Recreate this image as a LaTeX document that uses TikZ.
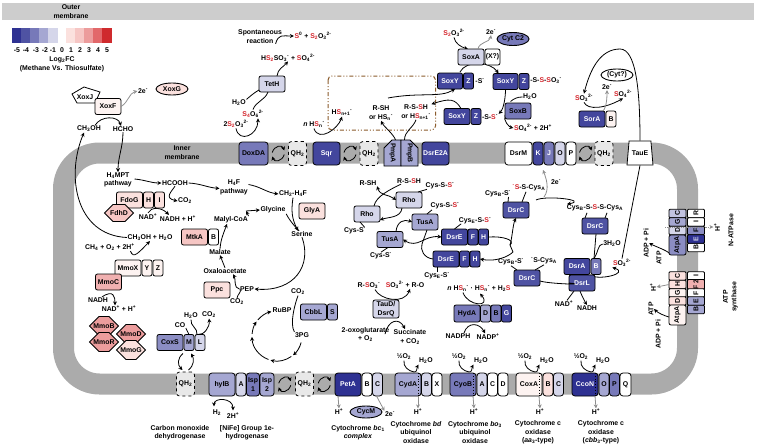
\documentclass[tikz,border=0pt]{standalone}
\usepackage{fontspec}
\setmainfont{Liberation Sans}
\usetikzlibrary{arrows.meta,backgrounds,calc,positioning,shapes.geometric,shapes.misc}
\definecolor{bfive}{HTML}{2E3192}
\definecolor{bfour}{HTML}{4F53A3}
\definecolor{bthree}{HTML}{7779B9}
\definecolor{btwo}{HTML}{A5A7D2}
\definecolor{bone}{HTML}{D5D6EA}
\definecolor{rone}{HTML}{FBE1DE}
\definecolor{rtwo}{HTML}{F6C6C4}
\definecolor{rthree}{HTML}{EC9C9C}
\definecolor{rfour}{HTML}{E2686A}
\definecolor{rfive}{HTML}{CF2A2D}
\definecolor{pale}{HTML}{FDF3F1}
\definecolor{sred}{HTML}{D3232A}
\definecolor{membrane}{HTML}{ABABAB}
\definecolor{outerbar}{HTML}{CDCDCD}
\definecolor{qhfill}{HTML}{E8E8E8}
\definecolor{egray}{HTML}{8E8E8E}
\definecolor{pocket}{HTML}{8A5A2B}
\newcommand{\dn}[1]{\textsubscript{#1}}
\newcommand{\up}[1]{\textsuperscript{#1}}
\newcommand{\rd}[1]{\textcolor{sred}{#1}}
\newcommand{\rt}[1]{\rotatebox{90}{#1}}
\newcommand{\qhcycle}[2]{%
  \coordinate (mid) at ($(#1.east)!.5!(#2.west)$);
  \draw[flow] (mid) ++(-6,-1) .. controls +(2,-7) and +(-2,-6) .. ++(12,-2);
  \draw[flow] (mid) ++(6,1) .. controls +(-2,7) and +(2,6) .. ++(-12,2);
}
\tikzset{
  every node/.style={font=\fontsize{6.9}{8.4}\selectfont\bfseries, inner sep=0.5pt, align=center},
  prot/.style={draw=black, line width=0.8pt, rounded corners=2pt, outer sep=0pt, inner sep=0pt, minimum width=26pt, minimum height=16pt},
  sub/.style={prot, minimum width=10pt},
  memb/.style={prot, minimum height=23pt, rounded corners=3pt},
  msub/.style={memb, minimum width=10pt},
  qh/.style={memb, dashed, fill=qhfill, minimum width=18pt, minimum height=24pt},
  dk/.style={text=white},
  hexa/.style={draw=black, line width=0.8pt, chamfered rectangle, chamfered rectangle xsep=3pt, chamfered rectangle ysep=7pt, minimum width=29pt, minimum height=14pt, inner sep=0pt, outer sep=0pt},
  pmp/.style={draw=black, line width=0.8pt, fill=btwo, chamfered rectangle, chamfered rectangle xsep=5pt, chamfered rectangle ysep=6pt, chamfered rectangle corners=north west, minimum width=17pt, minimum height=26pt, inner sep=0pt, outer sep=0pt},
  cyt/.style={draw=black, line width=0.9pt, ellipse, minimum width=32pt, minimum height=12pt, inner sep=0pt},
  atp/.style={prot, minimum width=17pt, minimum height=8.5pt, rounded corners=1pt},
  lnk/.style={line width=0.8pt},
  flow/.style={lnk, -{Stealth[length=4pt,width=4pt]}},
  flowb/.style={lnk, {Stealth[length=4pt,width=4pt]}-{Stealth[length=4pt,width=4pt]}},
  eflow/.style={line width=0.8pt, egray, -{Stealth[length=4pt,width=4pt]}},
}
\begin{document}
\begin{tikzpicture}[x=1pt,y=-1pt]
\useasboundingbox (0,0) rectangle (764,447);
% membranes
\node[fill=outerbar, minimum width=752pt, minimum height=17pt] (outer) at (378,11.5) {};
\draw[line width=21pt, membrane, rounded corners=36pt] (63.5,153) rectangle (687.5,384);
\node (outerlbl) at (71,11.5) {Outer\\membrane};
\node (innerlbl) at (182,152.5) {Inner\\membrane};
% colour key
\foreach \c/\x in {bfive/12,bfour/21,bthree/30,btwo/39,bone/48,rone/66,rtwo/75,rthree/84,rfour/93,rfive/102}
  \fill[\c] (\x,28) rectangle +(9.5,15);
\foreach \l/\x in {-5/17,-4/26,-3/36,-2/45,-1/53,0/62,1/71,2/80,3/89,4/98,5/107}
  \node at (\x,50) {\l};
\node (keylbl) at (62,64.5) {Log\dn{2}FC\\(Methane Vs. Thiosulfate)};
% methanol oxidation
\draw[lnk, fill=white] (72,94) -- (84,87) -- (100,92) -- (95,103) -- (77,103) -- cycle;
\node (xoxJ) at (85,97) {XoxJ};
\node[prot, fill=pale] (xoxF) at (108,106.5) {XoxF};
\node[cyt, fill=rone] (xoxG) at (172,89) {XoxG};
\node (eXox) at (143,91) {2e\up{-}};
\node (chOH) at (89,129) {CH\dn{3}OH};
\node (hcho) at (123,129) {HCHO};
\node (hmpt) at (118,180) {H\dn{4}MPT\\pathway};
\node (hcooh) at (175,183) {HCOOH};
\node (hf) at (234,187.5) {H\dn{4}F\\pathway};
\node[prot, fill=rone] (fdoG) at (129.5,200) {FdoG};
\node[sub, fill=rone, right=1pt of fdoG] (fdoH) {H};
\node[sub, fill=rone, right=1pt of fdoH] (fdoI) {I};
\node[hexa, fill=rtwo, minimum height=12pt, chamfered rectangle ysep=6pt] (fdhD) at (119,213) {FdhD};
\node (coA) at (185,201) {CO\dn{2}};
\node (nadA) at (148,216.5) {NAD\up{+}};
\node (nadhA) at (178,218.5) {NADH + H\up{+}};
\node (chOHb) at (150,237.5) {CH\dn{3}OH + H\dn{2}O};
\node (chFour) at (110,247) {CH\dn{4} + O\dn{2} + 2H\up{+}};
\node[prot, fill=pale] (mmoX) at (128,268) {MmoX};
\node[sub, fill=pale, right=1pt of mmoX] (mmoY) {Y};
\node[sub, fill=pale, right=1pt of mmoY] (mmoZ) {Z};
\node[prot, fill=rthree!80] (mmoC) at (108.5,282) {MmoC};
\node (nadhB) at (98,300) {NADH};
\node (nadB) at (119,309) {NAD\up{+} + H\up{+}};
\node[hexa, fill=rthree] (mmoB) at (104,326) {MmoB};
\node[hexa, fill=rthree] (mmoR) at (104,342) {MmoR};
\node[hexa, fill=rthree] (mmoD) at (131,334) {MmoD};
\node[hexa, fill=rone] (mmoG) at (131,350) {MmoG};
\draw[eflow] (xoxF.east) to[out=30,in=-165] (eXox.west);
\draw[flow] ([xshift=6pt]chOH.north) .. controls +(6,-10) and +(-3,-10) .. ([xshift=-2pt]hcho.north);
\draw[flow] (hcho.south) .. controls +(0,15) and +(0,-15) .. (hmpt.north);
\draw[flow] (chOHb.west) .. controls (75,235) and (66,175) .. ([xshift=-5pt]chOH.south);
\draw[flow] ([yshift=1pt]hmpt.east) ++(2,0) to[out=-5,in=180] (hcooh.west);
\draw[flow] (hcooh.east) to[out=-3,in=175] ([yshift=-1pt]hf.west);
\begin{scope}[on background layer]
\draw[flow] (hcooh.south) .. controls +(-3,5) and +(-14,-3) .. (coA.west);
\draw[flow] (nadA.north) .. controls +(3,-6) and +(-8,-8) .. ([xshift=-9pt]nadhA.north);
\draw[flow] ([xshift=-5pt]chFour.south east) .. controls +(3,8) and +(-12,12) .. (chOHb.south);
\draw[flow] ([xshift=4pt]nadhB.north) .. controls +(12,-8) and +(0,-8) .. ([xshift=-4pt]nadB.north);
\end{scope}
% formate and carbon assimilation
\node (glycine) at (273,210) {Glycine};
\node (chHF) at (293,194) {CH\dn{2}-H\dn{4}F};
\node[prot, fill=rone] (glyA) at (312,211) {GlyA};
\node (serine) at (302,234) {Serine};
\node (malyl) at (231,220) {Malyl-CoA};
\node[prot, fill=rtwo] (mtkA) at (194.5,237) {MtkA};
\node[sub, fill=white, right=1pt of mtkA] (mtkB) {B};
\node (malate) at (220,252) {Malate};
\node (oxalo) at (225,271) {Oxaloacetate};
\node[prot, fill=rone] (ppc) at (217,290) {Ppc};
\node (pep) at (247,289) {PEP};
\node (coB) at (237,302) {CO\dn{2}};
\node (coC) at (298,292) {CO\dn{2}};
\node (rubp) at (282,310) {RuBP};
\node (pg) at (302,335) {3PG};
\node[prot, fill=btwo] (cbbL) at (313.5,312) {CbbL};
\node[sub, fill=btwo, right=1pt of cbbL] (cbbS) {S};
\coordinate (calvin) at (277,336);
\coordinate (midGly) at (246,211);
\draw[flow] (hf.east) ++(0,-3) to[out=-10,in=172] (chHF.west);
\draw[flow] (chHF.south) .. controls +(-2,14) and +(-6,-12) .. ([xshift=-4pt]serine.north);
\draw[lnk] (glycine.south east) .. controls +(2,4) and +(-6,-6) .. ([xshift=-3pt]serine.north);
\draw[flow] (oxalo.north) -- (malate.south);
\draw[flow] (malate.north) to[out=85,in=-110] ([xshift=-4pt]malyl.south);
\draw[flow] (malyl.north east) -- (midGly);
\draw[flow] (midGly) -- (glycine.west);
\draw[flow] (pep.west) to[out=170,in=-60] ([xshift=8pt]oxalo.south);
\draw[lnk] (coB.north) to[out=90,in=-60] (240,289);
\draw[flow] (serine.south) .. controls (312,265) and (295,292) .. (pep.east);
\draw[lnk] (coC.south) .. controls +(-3,8) and +(-5,-8) .. (pg.north west);
\foreach \a/\b in {-15/-50,-55/-105,-110/-178,175/145,140/103}
  \draw[flow] (calvin) ++(\a:25pt) arc[start angle=\a, end angle=\b, radius=25pt];
% sulfur, periplasm side
\node (spont) at (260,36.5) {Spontaneous\\reaction};
\node (sZero) at (313,36) {\rd{S}\up{0} + \rd{S\dn{2}}O\dn{3}\up{2-}};
\node (hsso) at (288,58) {H\rd{S\dn{2}}SO\dn{3}\up{-} + \rd{S}O\dn{4}\up{2-}};
\node[prot, fill=bone] (tetH) at (272,84) {TetH};
\node (hwTet) at (239,103) {H\dn{2}O};
\node (tetra) at (253,114) {\rd{S\dn{4}}O\dn{6}\up{2-}};
\node (thio) at (236,124) {2\rd{S\dn{2}}O\dn{3}\up{2-}};
\node[memb, fill=bthree, minimum width=29pt] (doxDA) at (253.5,153.5) {DoxDA};
\node[qh] (qhA) at (297.5,153.5) {QH\dn{2}};
\node[memb, fill=bfive!90, minimum width=27pt, dk] (sqr) at (326.5,153.5) {Sqr};
\node[qh] (qhB) at (369,153.5) {QH\dn{2}};
\node[pmp] (pmpA) at (392.5,153) {\rotatebox{-90}{PmpA}};
\node[pmp, chamfered rectangle corners=north east] (pmpB) at (409.5,153) {\rotatebox{-90}{PmpB}};
\node[memb, fill=bfive!90, minimum width=27pt, dk] (dsrEtwo) at (435.5,153.5) {DsrE2A};
\node (nHS) at (314,125) {\textit{n} H\rd{S}\dn{n}\up{-}};
\node (hsOne) at (342,113) {H\rd{S}\dn{n+1}\up{-}};
\node (rsh) at (381,113) {R-SH\\or HS\dn{n}\up{-}};
\node (rssh) at (416,112) {R-S-\rd{S}H\\or H\rd{S}\dn{n+1}\up{-}};
\draw[pocket, line width=1pt, rounded corners=4pt, dash pattern=on 4pt off 2pt on 1pt off 2pt on 1pt off 2pt] (328,76) rectangle (435.5,130);
\draw[lnk] (hwTet.north east) to[out=40,in=-150] ([yshift=2pt]tetH.south west);
\draw[flow] ([xshift=5pt]tetH.north) to[out=85,in=-130] ([yshift=1pt]hsso.south);
\draw[flow] (spont.south east) ++(-7,0) .. controls +(3,-10) and +(-12,0) .. (sZero.west);
\draw[lnk] ([xshift=-4pt]tetH.south) to[out=-110,in=70] (tetra.north);
\draw[flow] (thio.south) .. controls +(3,15) and +(0,17) .. ([xshift=5pt]tetra.south);
\draw[flow] (nHS.south) .. controls +(5,14) and +(-4,12) .. (hsOne.south);
\qhcycle{doxDA}{qhA}
\qhcycle{sqr}{qhB}
\draw[flow] ([xshift=3pt]pmpA.north) .. controls +(-2,-6) and +(3,6) .. (rsh.south);
\draw[lnk] ([xshift=-5pt]pmpB.north) to[out=90,in=-110] (rssh.south);
% sox
\node (thioB) at (454,33) {\rd{S\dn{2}}O\dn{3}\up{2-}};
\node (eSox) at (491,32) {2e\up{-}};
\node[cyt, fill=bthree, minimum height=13pt] (cytTwo) at (513,39) {Cyt C2};
\node[prot, fill=bone] (soxA) at (471,57) {SoxA};
\node[sub, fill=white, minimum width=15pt, right=1pt of soxA] (soxX) {(X?)};
\node[prot, fill=bfive!90, dk, minimum width=25pt] (soxYa) at (450,81) {SoxY};
\node[sub, fill=bfive!90, dk, right=1pt of soxYa] (soxZa) {Z};
\node (sa) at (480,81) {-S\up{-}};
\node[prot, fill=bfive!90, dk, minimum width=25pt] (soxYb) at (505.5,81.5) {SoxY};
\node[sub, fill=bfive!90, dk, right=1pt of soxYb] (soxZb) {Z};
\node (sb) at (546,81) {-S-\rd{S}-\rd{S}O\dn{3}\up{-}};
\node[prot, fill=bfive!90, dk, minimum width=26pt] (soxYc) at (457,116.5) {SoxY};
\node[sub, fill=bfive!90, dk, right=1pt of soxYc] (soxZc) {Z};
\node (sc) at (490,117) {-S-\rd{S}\up{-}};
\node[prot, fill=bthree] (soxB) at (518,111) {SoxB};
\node (hwSox) at (530,97) {H\dn{2}O};
\node (soSox) at (533,128) {\rd{S}O\dn{4}\up{2-} + 2H\up{+}};
\coordinate (longS) at (388,98);
\begin{scope}[on background layer]
\draw[flow] (thioB.south) .. controls +(1,6) and +(-7,-2) .. ([xshift=-3pt]soxA.north);
\draw[flow] ([xshift=-9pt]soxA.south) ++(-2,7) .. controls +(6,-12) and +(-8,-12) .. ([xshift=-7pt]soxYb.north);
\draw[flow] (soxB.west) ++(0,4) .. controls +(-2,6) and +(-4,-1) .. (soSox.west);
\end{scope}
\draw[eflow] ([xshift=7pt]soxA.north) to[out=80,in=-100] (eSox.south);
\draw[flow] (soxYb.south) .. controls +(0,8) and +(5,-5) .. (sc.north east);
\draw[lnk] ([xshift=5pt]soxYb.south) ++(0,12) to[out=40,in=180] (hwSox.west);
\draw[flow] (longS) .. controls (420,92) and (440,98) .. ([xshift=5pt]soxYa.south);
\draw[flow] ([xshift=4pt]soxYc.north) .. controls +(-6,-10) and +(18,-6) .. (rssh.north east);
% srx / sor
\node[prot, fill=bfive!90, dk] (sorA) at (592,119) {SorA};
\node[sub, fill=pale, right=1pt of sorA] (sorB) {B};
\node (soThree) at (584,98) {\rd{S}O\dn{3}\up{2-}};
\node (soFour) at (623,94) {\rd{S}O\dn{4}\up{2-}};
\node (eSor) at (607,87) {2e\up{-}};
\node[cyt, fill=white] (cytQ) at (617,75) {(Cyt?)};
\begin{scope}[on background layer]
\draw[flow] (soThree.south) .. controls +(4,8) and +(-18,10) .. (soFour.south);
\end{scope}
\draw[eflow] (sorA.north east) ++(-2,0) .. controls +(4,-4) and +(0,5) .. (eSor.south);
% dsr membrane complex
\node[memb, fill=white, minimum width=27pt] (dsrM) at (518.5,153.5) {DsrM};
\node[msub, fill=bfive!90, dk, right=1pt of dsrM] (dsrK) {K};
\node[msub, fill=bthree, dk, right=1pt of dsrK] (dsrJ) {J};
\node[msub, fill=bone, right=1pt of dsrJ] (dsrO) {O};
\node[msub, fill=white, right=1pt of dsrO] (dsrP) {P};
\node[qh] (qhC) at (604,153.5) {QH\dn{2}};
\node[draw=black, line width=0.8pt, fill=white, trapezium, trapezium stretches=true, trapezium left angle=72, trapezium right angle=72, minimum width=26pt, minimum height=24pt, inner sep=0pt] (tauE) at (640,153) {TauE};
\qhcycle{dsrP}{qhC}
\draw[flow] (tauE.north) .. controls (640,90) and (636,49) .. (620,49) .. controls (600,49) and (590,70) .. (soThree.north);
% rhodanese and dsr relay
\node (rshB) at (368,183) {R-SH};
\node (rsshB) at (409,181) {R-S-\rd{S}H};
\node (csA) at (440,185.5) {Cys-S-\rd{S}\up{-}};
\node (csB) at (445,206) {Cys-S-\rd{S}\up{-}};
\node (csC) at (355,231) {Cys-S\up{-}};
\node (csD) at (381,256) {Cys-S\up{-}};
\node[prot, fill=bone] (rhoA) at (409,200) {Rho};
\node[prot, fill=bone] (rhoB) at (367,214) {Rho};
\node[prot, fill=btwo] (tusAa) at (425,222) {TusA};
\node[prot, fill=btwo] (tusAb) at (390,239.5) {TusA};
\node[prot, fill=bfive!90, dk] (dsrEa) at (454.5,237) {DsrE};
\node[sub, fill=bfive!90, dk, right=.5pt of dsrEa] (dsrFa) {F};
\node[sub, fill=bfive!90, dk, right=.5pt of dsrFa] (dsrHa) {H};
\node[prot, fill=bfive!90, dk] (dsrEb) at (446,259) {DsrE};
\node[sub, fill=bfive!90, dk, right=.5pt of dsrEb] (dsrFb) {F};
\node[sub, fill=bfive!90, dk, right=.5pt of dsrFb] (dsrHb) {H};
\node (ceA) at (475,221) {Cys\dn{E}-S-\rd{S}\up{-}};
\node (ceB) at (437,276) {Cys\dn{E}-S\up{-}};
\node[prot, fill=bfour, dk] (dsrCa) at (516,210) {DsrC};
\node[prot, fill=bfour, dk] (dsrCb) at (595,226) {DsrC};
\node[prot, fill=bfour, dk] (dsrCc) at (527,278) {DsrC};
\node (cbA) at (498,194) {Cys\dn{B}-S\up{-}};
\node (caA) at (529,188) {\rd{\up{-}S}-S-Cys\dn{A}};
\node (cbB) at (595,208) {Cys\dn{B}-S-\rd{S}-S-Cys\dn{A}};
\node (cbC) at (511,262) {Cys\dn{B}-S\up{-}};
\node (caC) at (544,261) {\up{-}S-Cys\dn{A}};
\node (eDsr) at (556,182) {2e\up{-}};
\node (hwDsr) at (612,244) {3H\dn{2}O};
\node[prot, fill=bfive!90, dk] (dsrA) at (577,266.5) {DsrA};
\node[sub, fill=bthree, dk, right=1pt of dsrA] (dsrB) {B};
\node[prot, fill=bfour, dk] (dsrL) at (582,283) {DsrL};
\node (soDsr) at (622,263) {\rd{S}O\dn{3}\up{2-}};
\node (nadC) at (564,304) {NAD\up{+}};
\node (nadhC) at (587,308) {NADH};
\coordinate (eStart) at (544,197);
\coordinate (crossE) at (510,245);
\coordinate (joinT) at (422,244);
\draw[flowb] (rshB.south east) .. controls +(3,10) and +(-8,-6) .. (rhoA.west);
\draw[lnk] ([xshift=7pt]rhoB.north) .. controls +(2,-10) and +(-10,5) .. ([xshift=-8pt]rsshB.south);
\draw[flow] ([xshift=-7pt]rhoA.south) .. controls +(-1,10) and +(8,-3) .. ([yshift=-6pt]rhoB.east);
\draw[flow] ([xshift=6pt]tusAb.north) .. controls +(1,-10) and +(-8,-3) .. (tusAa.west);
\draw[lnk] (csA.south west) ++(2,0) -- ([xshift=9pt]rhoA.north);
\draw[lnk] (csB.south west) ++(2,0) -- ([xshift=2pt]tusAa.north);
\draw[lnk] (csC.north east) ++(-2,0) -- ([xshift=-7pt]rhoB.south);
\draw[lnk] (csD.north) -- ([xshift=-2pt]tusAb.south);
\draw[lnk] (ceA.south west) ++(3,-1) -- (dsrEa.north);
\draw[lnk] (ceB.north) -- ([xshift=-9pt]dsrEb.south);
\draw[flowb] (tusAb.east) .. controls (418,249) and (424,235) .. (dsrEa.west);
\draw[lnk] ([xshift=2pt]tusAa.south) -- (joinT);
\draw[lnk] (dsrEb.west) .. controls (424,258) and (420,250) .. (joinT);
\draw[lnk] (dsrHa.east) .. controls +(14,-1) and +(6,-5) .. (crossE);
\draw[flow] (crossE) .. controls +(2,-6) and +(-3,6) .. (dsrCa.south);
\draw[flow] (crossE) ++(3,7) .. controls +(-5,5) and +(15,3) .. (dsrHb.east);
\draw[lnk] (crossE) -- ++(3,7);
\draw[lnk] (cbA.east) ++(-3,3) -- ([xshift=-8pt]dsrCa.north);
\draw[lnk] (caA.south) ++(-3,0) -- ([xshift=6pt]dsrCa.north);
\draw[flow] (dsrCa.north east) ++(7,-2) .. controls +(10,-5) and +(22,-4) .. ([xshift=-28pt]cbB.north);
\draw[eflow] (eStart) .. controls +(6,-8) and +(3,8) .. ([yshift=-5pt]dsrK.south east);
\draw[lnk] (cbB.south) ++(-8,1) -- ([xshift=-10pt]dsrCb.north);
\draw[lnk] (cbB.south) ++(12,1) -- ([xshift=10pt]dsrCb.north);
\draw[lnk] ([xshift=1pt]dsrCb.south) -- ([xshift=3pt]dsrB.north west);
\draw[lnk] ([xshift=3pt]dsrB.north west) .. controls +(5,-8) and +(-5,1) .. (hwDsr.west);
\draw[lnk] (dsrCc.east) ++(0,3) .. controls +(10,3) and +(20,2) .. (dsrL.west);
\draw[lnk] (cbC.south) -- ([xshift=-10pt]dsrCc.north);
\draw[lnk] (caC.south) -- ([xshift=8pt]dsrCc.north);
\begin{scope}[on background layer]
\draw[flow] (dsrL.east) ++(-5,-8) .. controls +(8,6) and +(18,6) .. (soDsr.south west);
\draw[lnk] (nadC.north) ++(3,0) -- ([xshift=-8pt]dsrL.south);
\draw[flow] ([xshift=-2pt]dsrL.south) .. controls +(1,3) and +(-2,-3) .. (nadhC.north);
\end{scope}
\draw[lnk] (tauE.south) -- (soDsr.north);
% tauD and hydrogenase
\node (rso) at (369,286) {R-\rd{S}O\dn{3}\up{-}};
\node (soRo) at (405,284.5) {\rd{S}O\dn{3}\up{2-} + R-O};
\node[prot, fill=bone, minimum height=18pt] (tauD) at (386,309) {TauD/\\DsrQ};
\node[anchor=west] (oxoglu) at (341,334.5) {2-oxoglutarate\\+ O\dn{2}};
\node[anchor=west] (succ) at (393,337) {Succinate\\+ CO\dn{2}};
\node (hydS) at (479,289) {\textit{n} H\rd{S}\dn{n}\up{-} \textperiodcentered{} H\rd{S}\dn{n}\up{-} + H\dn{2}\rd{S}};
\node[prot, fill=bthree, minimum height=17pt] (hydA) at (467,313.5) {HydA};
\node[sub, fill=btwo, minimum height=17pt, right=.5pt of hydA] (hydD) {D};
\node[sub, fill=bthree, minimum height=17pt, right=.5pt of hydD] (hydB) {B};
\node[sub, fill=bfive!90, dk, minimum height=17pt, right=.5pt of hydB] (hydG) {G};
\node (nadph) at (458,336) {NADPH};
\node (nadp) at (488,337) {NADP\up{+}};
\begin{scope}[on background layer]
\draw[flow] (rso.south) ++(6,0) .. controls +(5,10) and +(-6,16) .. ([xshift=5pt]soRo.south);
\draw[flow] ([xshift=-9pt]succ.north) ++(-16,5) .. controls +(3,-14) and +(-6,-12) .. ([xshift=-5pt]succ.north);
\draw[flow] ([xshift=-4pt]hydS.south) ++(-12,0) .. controls +(5,14) and +(12,14) .. ++(17,1);
\draw[flow] (nadph.north) ++(6,0) .. controls +(4,-12) and +(-5,-10) .. ([xshift=-3pt]nadp.north);
\end{scope}
% carbon monoxide dehydrogenase and hydrogenase
\node[prot, fill=bthree!85] (coxS) at (170,342.5) {CoxS};
\node[sub, fill=btwo, right=1pt of coxS] (coxM) {M};
\node[sub, fill=bone, right=1pt of coxM] (coxL) {L};
\node (coD) at (180,325) {CO};
\node (hwCox) at (191,316) {H\dn{2}O};
\node (coE) at (209,315) {CO\dn{2}};
\node[qh] (qhD) at (185.5,384) {QH\dn{2}};
\node[memb, fill=btwo] (hylB) at (222,384.5) {hylB};
\node[msub, fill=bone, right=1pt of hylB] (hylA) {A};
\node[msub, fill=bthree, minimum width=13pt, right=.5pt of hylA] (ispA) {Isp\\1};
\node[msub, fill=btwo, minimum width=14pt, right=.5pt of ispA] (ispB) {Isp\\2};
\node[qh] (qhE) at (304.5,384) {QH\dn{2}};
\node (hTwo) at (217,413) {H\dn{2}};
\node (hpHyl) at (233,416) {2H\up{+}};
\node (coxlbl) at (180,432.5) {Carbon monoxide\\dehydrogenase};
\node (hyllbl) at (247,432.5) {[NiFe] Group 1e-\\hydrogenase};
\draw[lnk] (coD.south east) -- (coxM.north);
\draw[lnk] (hwCox.south) to[out=-100,in=80] ([xshift=-3pt]coxL.north);
\draw[flow] ([xshift=-2pt]coxL.north) .. controls +(6,1) and +(1,8) .. (coE.south);
\draw[flow] ([xshift=-6pt,yshift=-3pt]coxM.south) .. controls +(-6,5) and +(-5,-5) .. ([xshift=-3pt,yshift=2pt]qhD.north);
\draw[flow] ([xshift=3pt,yshift=2pt]qhD.north) .. controls +(6,-5) and +(3,5) .. ([xshift=2pt,yshift=-3pt]coxM.south);
\draw[flowb] ([xshift=-3pt,yshift=3pt]hTwo.north) .. controls +(0,-9) and +(0,-13) .. ([yshift=2pt]hpHyl.north);
\qhcycle{ispB}{qhE}
% respiratory complexes
\node[memb, fill=bfive, dk] (petA) at (348,384.5) {PetA};
\node[msub, fill=white, right=1pt of petA] (petB) {B};
\node[msub, fill=bone, right=.5pt of petB] (petC) {C};
\node[memb, fill=btwo] (cydA) at (408,384.5) {CydA};
\node[msub, fill=bone, right=.5pt of cydA] (cydB) {B};
\node[msub, fill=white, right=.5pt of cydB] (cydX) {X};
\node[memb, fill=bthree] (cyoB) at (463,384.5) {CyoB};
\node[msub, fill=bone, right=1pt of cyoB] (cyoA) {A};
\node[msub, fill=white, right=.5pt of cyoA] (cyoC) {C};
\node[msub, fill=white, right=.5pt of cyoC] (cyoD) {D};
\node[memb, fill=pale] (coxA) at (529,384.5) {CoxA};
\node[msub, fill=rone, right=1pt of coxA] (coxB) {B};
\node[msub, fill=bone, right=.5pt of coxB] (coxC) {C};
\node[memb, fill=bfive, dk] (ccoN) at (585,384.5) {CcoN};
\node[msub, fill=btwo, right=1pt of ccoN] (ccoO) {O};
\node[msub, fill=bthree, right=.5pt of ccoO] (ccoP) {P};
\node[msub, fill=white, minimum width=11pt, right=.5pt of ccoP] (ccoQ) {Q};
\node[cyt, fill=btwo] (cycM) at (366,412) {CycM};
\node (hpPet) at (339,412) {H\up{+}};
\node (ePet) at (390,414) {2e\up{-}};
\node (petlbl) at (358,432.5) {Cytochrome \textit{bc}\dn{1}\\\textit{complex}};
\qhcycle{qhE}{petA}
\draw[eflow] ([xshift=-10pt]petA.south) -- (hpPet.north);
\draw[eflow] ([xshift=-1pt]petC.south) -- (ePet.north west);
\foreach \m/\o/\w/\p/\l/\x/\t in {cydA/404/426/418/cyd/416/{Cytochrome \textit{bd}\\ubiquinol\\oxidase},cyoB/459/481/474/cyo/475/{Cytochrome \textit{bo}\dn{3}\\ubiquinol\\oxidase},coxA/525/547/540/coa/538/{Cytochrome c\\oxidase\\(\textit{aa}\dn{3}-type)},ccoN/581/603/596/cco/601/{Cytochrome c\\oxidase\\(\textit{cbb}\dn{3}-type)}}{
  \node (o\l) at (\o,357) {½O\dn{2}};
  \node (w\l) at (\w,361) {H\dn{2}O};
  \node (hp\l) at (\p,412) {H\up{+}};
  \node (lbl\l) at (\x,432.5) {\t};
  \draw[lnk, dotted] ([xshift=-3pt]\m.north east) -- ([xshift=-3pt]\m.south east);
  \draw[lnk] (o\l.south) to[out=-100,in=170] ([xshift=-7pt,yshift=1pt]\m.north east);
  \draw[flow] ([xshift=-7pt,yshift=1pt]\m.north east) to[out=-10,in=-120] (w\l.south west);
  \draw[eflow] ([xshift=-3pt]\m.south east) -- (hp\l.north);
}
% atpases
\foreach \n/\c/\y/\l in {nC/bone!60!btwo/213.5/C,nG/btwo/222/G,nD/bone/230.5/D}
  \node[atp, fill=\c] (\n) at (677.5,\y) {\rt{\l}};
\node[prot, fill=bthree!85, minimum width=17pt, minimum height=20pt] (nAtpA) at (677.5,245) {\rt{AtpA}};
\foreach \n/\c/\y/\l in {nR/white/213.5/R,nI/white/222/I,nF/bthree!85/230.5/F,nB/white/247.5/B}
  \node[atp, fill=\c] (\n) at (696,\y) {\rt{\l}};
\node[atp, fill=bfive, text=bone] (nE) at (696,239) {\rt{E}};
\foreach \n/\c/\y/\l in {sC/rone/276/C,sH/rone/284.5/H,sG/pale/293/G,sD/rone/301/D}
  \node[atp, fill=\c] (\n) at (677.5,\y) {\rt{\l}};
\node[prot, fill=pale, minimum width=17pt, minimum height=20pt] (sAtpA) at (677.5,315) {\rt{AtpA}};
\foreach \n/\c/\y/\l in {sI/white/276/I,sT/rthree!80/284.5/{F 2},sF/white/293/F,sE/btwo/301/E,sB/btwo/309.5/B}
  \node[atp, fill=\c] (\n) at (696,\y) {\rt{\l}};
\node[rotate=90] (hpN) at (717,227) {H\up{+}};
\node[rotate=90] (hpS) at (653,287) {H\up{+}};
\node[rotate=90] (adpN) at (646,243) {ADP + Pi};
\node[rotate=90] (atpN) at (659,258) {ATP};
\node[rotate=90] (atpS) at (651,309) {ATP};
\node[rotate=90] (adpS) at (658,334) {ADP + Pi};
\node[rotate=90] (nlbl) at (731,230) {N-ATPase};
\node[rotate=90] (slbl) at (730.5,297) {ATP\\synthase};
\coordinate (nStart) at (665,227);
\draw[eflow, densely dotted] (nStart) -- (hpN.north);
\draw[eflow] (sH.west) -- (hpS.south);
\draw[flow] (nAtpA.south west) ++(0,-2) .. controls +(-3,-3) and +(5,3) .. (adpN.south);
\draw[flow] (sAtpA.west) ++(0,2) .. controls +(-4,-1) and +(4,4) .. (atpS.south);
\end{tikzpicture}
\end{document}
